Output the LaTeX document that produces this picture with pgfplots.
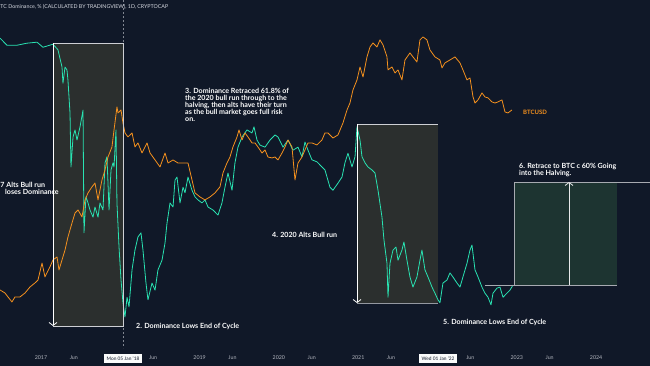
\documentclass[border=0pt]{standalone}
\usepackage{fontspec}
\setmainfont{Lato}
\usepackage{pgfplots}
\pgfplotsset{compat=1.18}
\usepackage{pgfplotstable}
\usetikzlibrary{arrows.meta}
\definecolor{bg}{RGB}{16,24,40}
\definecolor{boxgray}{RGB}{43,47,46}
\definecolor{boxgreen}{RGB}{29,52,49}
\definecolor{domc}{RGB}{41,227,178}
\definecolor{btcc}{RGB}{245,145,30}
\definecolor{edge}{RGB}{205,207,212}
\definecolor{tickc}{RGB}{178,181,190}
\definecolor{hdr}{RGB}{215,218,226}

\pgfplotstableread{
t D
2016.483 88.0
2016.571 86.6
2016.697 86.6
2016.823 87.0
2016.950 87.2
2017.025 86.2
2017.151 86.8
2017.214 85.7
2017.265 82.3
2017.277 79.1
2017.303 82.3
2017.328 81.7
2017.340 79.7
2017.366 73.2
2017.378 62.6
2017.404 68.5
2017.429 69.9
2017.454 67.9
2017.492 70.5
2017.530 73.8
2017.542 49.6
2017.567 56.7
2017.593 55.5
2017.618 54.1
2017.656 52.7
2017.681 54.7
2017.719 52.7
2017.744 55.5
2017.782 54.1
2017.807 63.4
2017.832 64.6
2017.858 54.1
2017.883 62.0
2017.908 63.4
2017.921 62.6
2017.946 69.9
2017.958 55.5
2017.984 46.8
2018.009 40.3
2018.034 35.8
2018.059 33.0
2018.085 36.9
2018.110 35.0
2018.148 42.3
2018.185 46.2
2018.223 48.8
2018.261 49.6
2018.286 46.2
2018.324 39.7
2018.349 36.4
2018.400 39.7
2018.438 38.3
2018.475 42.3
2018.526 44.2
2018.564 47.6
2018.589 51.5
2018.627 55.5
2018.665 54.7
2018.690 60.0
2018.715 60.6
2018.753 55.5
2018.791 58.6
2018.816 57.5
2018.854 60.6
2018.904 58.0
2018.942 56.7
2018.980 56.1
2019.030 55.5
2019.068 56.1
2019.106 54.7
2019.169 54.1
2019.232 53.1
2019.282 55.5
2019.320 58.6
2019.358 61.4
2019.409 58.0
2019.446 63.4
2019.484 66.5
2019.535 68.5
2019.598 69.9
2019.661 69.3
2019.686 70.5
2019.724 67.9
2019.762 66.9
2019.825 66.5
2019.888 67.9
2019.951 68.9
2019.989 68.5
2020.052 66.5
2020.115 67.9
2020.178 65.9
2020.241 66.5
2020.291 64.6
2020.329 67.5
2020.367 65.9
2020.417 64.0
2020.480 63.6
2020.543 62.6
2020.581 62.0
2020.644 58.6
2020.682 58.0
2020.745 59.4
2020.796 60.6
2020.833 63.4
2020.871 65.3
2020.922 62.6
2020.960 64.6
2020.985 70.5
2021.023 67.9
2021.048 64.6
2021.086 63.4
2021.123 62.6
2021.174 62.0
2021.212 61.4
2021.250 58.0
2021.300 52.7
2021.325 48.2
2021.363 43.6
2021.376 36.9
2021.401 43.6
2021.439 46.2
2021.477 46.8
2021.502 44.2
2021.552 46.2
2021.577 47.8
2021.615 44.2
2021.653 40.9
2021.691 38.9
2021.741 40.9
2021.779 44.2
2021.804 46.2
2021.842 42.3
2021.880 40.9
2021.931 38.9
2021.968 37.7
2022.006 36.4
2022.031 35.8
2022.069 39.7
2022.120 40.3
2022.157 41.7
2022.195 40.9
2022.246 39.7
2022.284 38.9
2022.321 40.9
2022.372 43.6
2022.410 46.2
2022.435 47.2
2022.473 42.3
2022.511 40.9
2022.561 38.9
2022.599 37.7
2022.637 36.9
2022.675 35.4
2022.700 37.7
2022.750 38.7
2022.788 38.9
2022.826 36.9
2022.876 37.7
2022.914 38.3
2022.952 39.3
}\dom

\pgfplotstableread{
t P
2016.483 805
2016.546 764
2016.584 714
2016.634 655
2016.672 714
2016.735 714
2016.798 764
2016.861 847
2016.924 908
2016.962 955
2017.013 1279
2017.050 1007
2017.113 1196
2017.151 1349
2017.202 1419
2017.227 1135
2017.265 1349
2017.303 1600
2017.340 2000
2017.391 2546
2017.429 3020
2017.467 3184
2017.517 2824
2017.555 3783
2017.593 4266
2017.643 4732
2017.681 5058
2017.719 3783
2017.769 5333
2017.807 6324
2017.845 7907
2017.895 9397
2017.921 12590
2017.958 18700
2017.971 16860
2018.009 17740
2018.034 14190
2018.059 11960
2018.097 11160
2018.148 11960
2018.185 9397
2018.223 10070
2018.274 8470
2018.337 10070
2018.375 8470
2018.438 7516
2018.501 6668
2018.564 8470
2018.602 7129
2018.665 7516
2018.728 7129
2018.791 7129
2018.854 7129
2018.904 5333
2018.942 4266
2019.005 3981
2019.068 3783
2019.131 3981
2019.194 4266
2019.257 4732
2019.295 6012
2019.345 7129
2019.383 7907
2019.421 9397
2019.472 11160
2019.497 12590
2019.535 10590
2019.572 11960
2019.610 11160
2019.661 10070
2019.699 10070
2019.736 9397
2019.787 8470
2019.825 8930
2019.862 7907
2019.913 7780
2019.951 7907
2019.989 7516
2020.039 8470
2020.077 9397
2020.115 10590
2020.165 9397
2020.203 5333
2020.241 7129
2020.291 7907
2020.329 8930
2020.367 10070
2020.417 10070
2020.480 9727
2020.543 10590
2020.581 11960
2020.619 11960
2020.682 10960
2020.745 11550
2020.808 14190
2020.859 17740
2020.896 19990
2020.934 25000
2020.985 29720
2021.023 37150
2021.061 31260
2021.111 44150
2021.149 52360
2021.187 56110
2021.237 52360
2021.275 59160
2021.313 54200
2021.363 44150
2021.376 35320
2021.426 37150
2021.464 33500
2021.502 35320
2021.552 29720
2021.590 41880
2021.653 47300
2021.691 44150
2021.741 40460
2021.779 59160
2021.817 62230
2021.867 59160
2021.905 49770
2021.968 44150
2022.031 41880
2022.057 36560
2022.094 39810
2022.157 41880
2022.221 44150
2022.284 39810
2022.321 35320
2022.372 29720
2022.410 30760
2022.448 22180
2022.473 19990
2022.511 21090
2022.561 23770
2022.599 22180
2022.637 21830
2022.687 20370
2022.725 19990
2022.763 20370
2022.813 21090
2022.851 17140
2022.889 16860
2022.939 17740
}\btc

\begin{document}
\begin{tikzpicture}
\useasboundingbox (0,0) rectangle (650pt,366pt);
\clip (0,0) rectangle (650pt,366pt);
\fill[bg] (0,0) rectangle (650pt,366pt);
\begin{scope}[shift={(0pt,366pt)},x=1pt,y=-1pt]
\fill[boxgray] (53,43) rectangle (123,326);
\fill[boxgray] (357,124) rectangle (438,303);
\fill[boxgreen] (514,182) rectangle (617,285);
\draw[tickc!70!bg, line width=0.5pt, dash pattern=on 2pt off 2pt] (123,0) -- (123,348);
\end{scope}

\begin{axis}[at={(0pt,0pt)}, anchor=south west, width=650pt, height=366pt,
  scale only axis, xmin=2016.483, xmax=2024.680, ymin=23.34, ymax=95.52,
  axis line style={draw=none}, ytick=\empty, major tick length=0pt,
  xtick={2017,2017.414,2018.414,2019,2019.414,2020,2020.414,2021,2021.414,2022.414,2023,2023.414,2024},
  xticklabels={2017,Jun,Jun,2019,Jun,2020,Jun,2021,Jun,Jun,2023,Jun,2024},
  x tick label style={anchor=center, yshift=8.5pt, font=\fontsize{5.3}{5.3}\selectfont, text=tickc},
  clip=true]
\addplot[domc, line width=0.8pt, line join=round] table[x=t,y=D]{\dom};
\end{axis}

\begin{axis}[at={(0pt,0pt)}, anchor=south west, width=650pt, height=366pt,
  scale only axis, xmin=2016.483, xmax=2024.680, ymode=log, ymin=218, ymax=117400,
  hide axis]
\addplot[btcc, line width=0.8pt, line join=round] table[x=t,y=P]{\btc};
\end{axis}

\begin{scope}[shift={(0pt,366pt)},x=1pt,y=-1pt]
\tikzset{ann/.style={text=white, font=\fontsize{7.1}{6.8}\selectfont\bfseries, inner sep=0pt, align=left}}
% box 1
\draw[edge, line width=0.6pt] (53,43) -- (123,43) -- (123,326) -- (53,326);
\draw[white, line width=0.8pt, -{Straight Barb[length=3pt,width=8pt]}] (53,43) -- (53,326);
% box 2
\draw[edge, line width=0.6pt] (357,124) -- (438,124);
\draw[edge!70!bg, line width=0.6pt] (357,303) -- (438,303);
\draw[white, line width=0.8pt, -{Straight Barb[length=3pt,width=8pt]}] (357,124) -- (357,303);
% box 3
\draw[edge!80!bg, line width=0.6pt] (514,182) -- (650,182);
\draw[edge!80!bg, line width=0.6pt] (485,285) -- (617,285);
\draw[edge!80!bg, line width=0.6pt] (514,182) -- (514,285);
\draw[white!90!bg, line width=0.8pt, -{Straight Barb[length=3pt,width=8pt]}] (569,285) -- (569,182);
% texts
\node[ann, anchor=west] at (0.3,185) {7 Alts Bull run};
\node[ann, anchor=west] at (5,192) {loses Dominance};
\node[ann, anchor=west] at (136,326) {2. Dominance Lows End of Cycle};
\node[ann, anchor=north west] at (185,88.5) {3. Dominance Retraced 61.8\% of\\the 2020 bull run through to the\\halving, then alts have their turn\\as the bull market goes full risk\\on.};
\node[ann, anchor=west] at (272,235) {4. 2020 Alts Bull run};
\node[ann, anchor=west] at (443,322) {5. Dominance Lows End of Cycle};
\node[ann, anchor=north west] at (519,163.5) {6. Retrace to BTC c 60\% Going\\into the Halving.};
\node[text=btcc, font=\fontsize{6}{6}\selectfont\bfseries, anchor=west, inner sep=0pt] at (523,112) {BTCUSD};
\node[text=hdr, font=\fontsize{5.3}{5.3}\selectfont, anchor=west, inner sep=0pt] at (0.3,7) {TC Dominance, \% (CALCULATED BY TRADINGVIEW), 1D, CRYPTOCAP};
% crosshair date labels
\node[fill=white!94!tickc, text=bg, font=\fontsize{4.8}{4.8}\selectfont, minimum width=38pt, minimum height=9pt, inner sep=0pt] at (123,358.5) {Mon 05 Jan '18};
\node[fill=white!94!tickc, text=bg, font=\fontsize{4.8}{4.8}\selectfont, minimum width=38pt, minimum height=9pt, inner sep=0pt] at (438,358.5) {Wed 01 Jan '22};
\end{scope}
\end{tikzpicture}
\end{document}
